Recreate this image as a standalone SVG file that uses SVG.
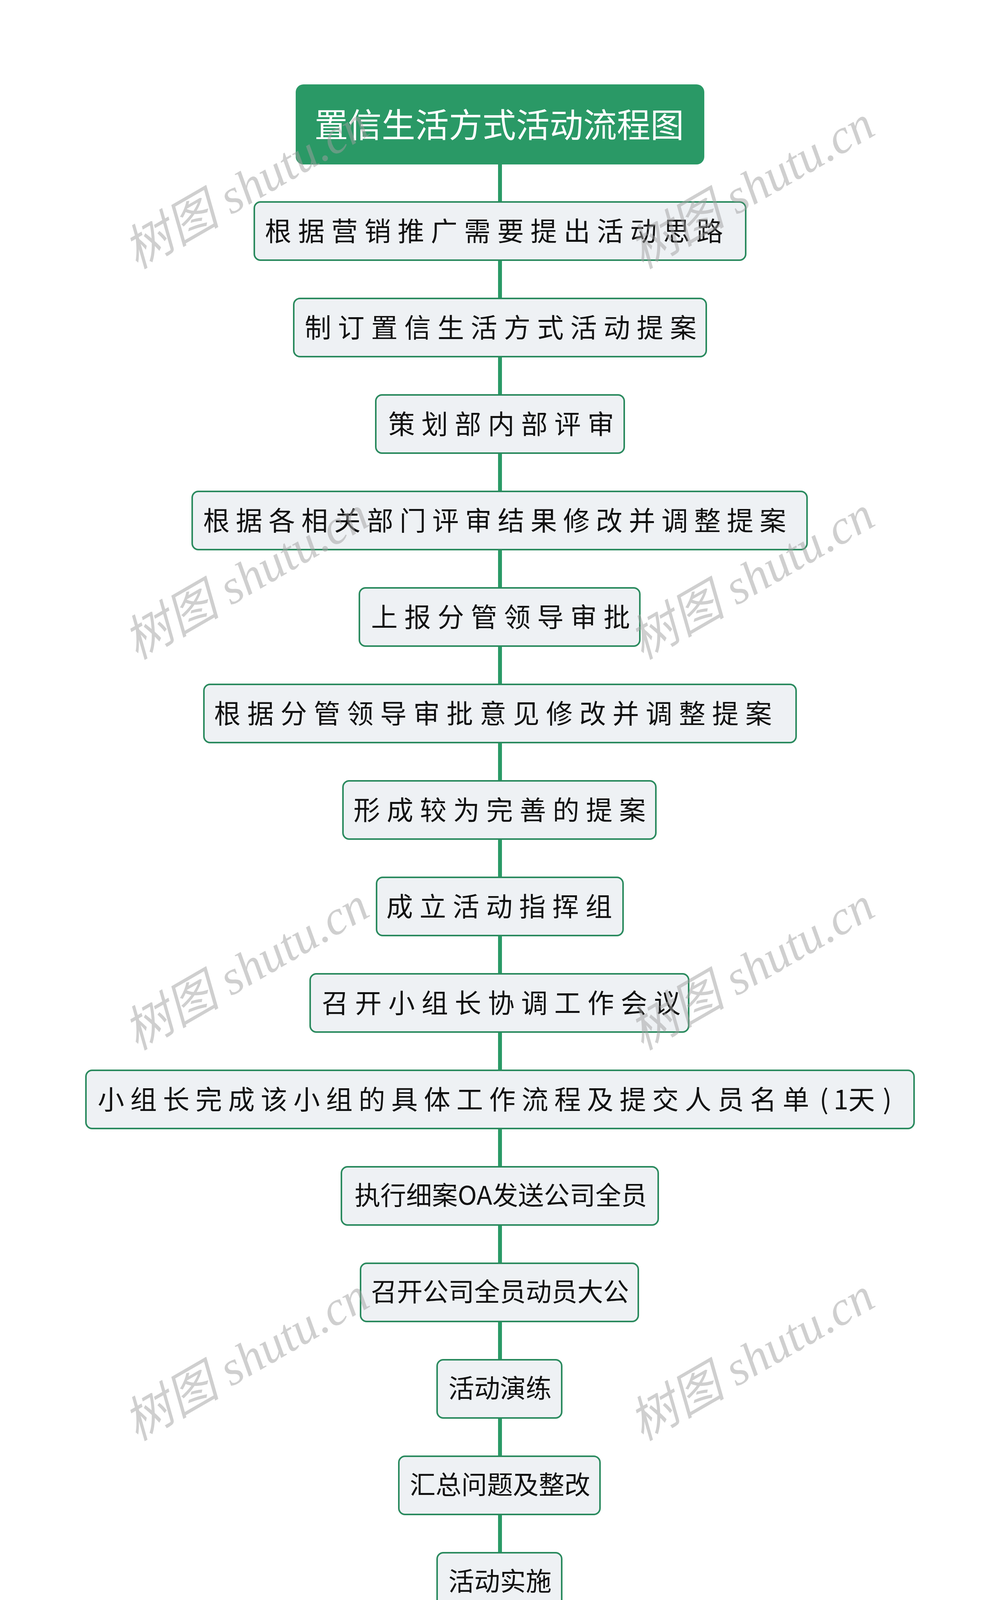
<svg xmlns="http://www.w3.org/2000/svg" width="2560" height="4837" viewBox="0 0 2560 4837">
<style>
.bg{fill:#ffffff}
.conn line{stroke:#2a9a66;stroke-width:10}
.box{fill:#eef1f4;stroke:#2a8a5e;stroke-width:4}
.root{fill:#2a9966}
.t{font-family:"Noto Sans CJK SC","Noto Sans",sans-serif;fill:#111111}
.sp{font-size:68px;letter-spacing:17px}
.ns{font-size:66px}
.rt{font-family:"Noto Sans CJK SC","Noto Sans",sans-serif;font-size:86px;fill:#ffffff}
.wm{font-family:"Liberation Serif","Noto Sans CJK SC",serif;font-style:italic;font-size:124px;fill:#a0a0a0;fill-opacity:0.5}
</style>
<rect class="bg" x="0" y="0" width="2560" height="4837"/>
<g id="connectors" class="conn">
<line x1="1280" y1="421" x2="1280" y2="515"/>
<line x1="1280" y1="668" x2="1280" y2="762"/>
<line x1="1280" y1="915" x2="1280" y2="1009"/>
<line x1="1280" y1="1162" x2="1280" y2="1256"/>
<line x1="1280" y1="1409" x2="1280" y2="1503"/>
<line x1="1280" y1="1656" x2="1280" y2="1750"/>
<line x1="1280" y1="1903" x2="1280" y2="1997"/>
<line x1="1280" y1="2150" x2="1280" y2="2244"/>
<line x1="1280" y1="2397" x2="1280" y2="2491"/>
<line x1="1280" y1="2644" x2="1280" y2="2738"/>
<line x1="1280" y1="2891" x2="1280" y2="2985"/>
<line x1="1280" y1="3138" x2="1280" y2="3232"/>
<line x1="1280" y1="3385" x2="1280" y2="3479"/>
<line x1="1280" y1="3632" x2="1280" y2="3726"/>
<line x1="1280" y1="3879" x2="1280" y2="3973"/>
<line x1="1280" y1="4126" x2="1280" y2="4220"/>
<line x1="1280" y1="4373" x2="1280" y2="4467"/>
</g>
<g id="root">
<rect class="root" x="757" y="216" width="1046" height="205" rx="20"/>
<text class="rt" x="1278" y="352" text-anchor="middle">置信生活方式活动流程图</text>
</g>
<g id="n1"><rect class="box" x="651" y="517" width="1258" height="149" rx="16"/><text class="t sp" x="678" y="617">根据营销推广需要提出活动思路</text></g>
<g id="n2"><rect class="box" x="752" y="764" width="1056" height="149" rx="16"/><text class="t sp" x="780" y="864">制订置信生活方式活动提案</text></g>
<g id="n3"><rect class="box" x="962" y="1011" width="636" height="149" rx="16"/><text class="t sp" x="994" y="1111">策划部内部评审</text></g>
<g id="n4"><rect class="box" x="492" y="1258" width="1574" height="149" rx="16"/><text class="t sp" x="520" y="1358" style="letter-spacing:15.8px">根据各相关部门评审结果修改并调整提案</text></g>
<g id="n5"><rect class="box" x="920" y="1505" width="718" height="149" rx="16"/><text class="t sp" x="950" y="1605">上报分管领导审批</text></g>
<g id="n6"><rect class="box" x="522" y="1752" width="1516" height="149" rx="16"/><text class="t sp" x="548" y="1852">根据分管领导审批意见修改并调整提案</text></g>
<g id="n7"><rect class="box" x="878" y="1999" width="801" height="149" rx="16"/><text class="t sp" x="905" y="2099">形成较为完善的提案</text></g>
<g id="n8"><rect class="box" x="964" y="2246" width="631" height="149" rx="16"/><text class="t sp" x="989" y="2346">成立活动指挥组</text></g>
<g id="n9"><rect class="box" x="794" y="2493" width="969" height="149" rx="16"/><text class="t sp" x="824" y="2593">召开小组长协调工作会议</text></g>
<g id="n10"><rect class="box" x="220" y="2740" width="2120" height="149" rx="16"/><text class="t sp" x="250" y="2840" style="letter-spacing:15.5px">小组长完成该小组的具体工作流程及提交人员名单<tspan x="2098" style="letter-spacing:0px">(</tspan><tspan x="2134" style="letter-spacing:0px">1天</tspan><tspan x="2260" style="letter-spacing:0px">)</tspan></text></g>
<g id="n11"><rect class="box" x="874" y="2987" width="811" height="149" rx="16"/><text class="t ns" x="1282" y="3084" text-anchor="middle">执行细案OA发送公司全员</text></g>
<g id="n12"><rect class="box" x="923" y="3234" width="711" height="149" rx="16"/><text class="t ns" x="1280" y="3331" text-anchor="middle">召开公司全员动员大公</text></g>
<g id="n13"><rect class="box" x="1119" y="3481" width="319" height="149" rx="16"/><text class="t ns" x="1280" y="3578" text-anchor="middle">活动演练</text></g>
<g id="n14"><rect class="box" x="1021" y="3728" width="515" height="149" rx="16"/><text class="t ns" x="1280" y="3825" text-anchor="middle">汇总问题及整改</text></g>
<g id="n15"><rect class="box" x="1119" y="3975" width="319" height="149" rx="16"/><text class="t ns" x="1280" y="4072" text-anchor="middle">活动实施</text></g>
<g id="n16"><rect class="box" x="1119" y="4222" width="319" height="149" rx="16"/><text class="t ns" x="1280" y="4319" text-anchor="middle">活动总结</text></g>
<g id="n17"><rect class="box" x="530" y="4469" width="1498" height="149" rx="16"/><text class="t ns" x="559" y="4566">召开公司总结大会（庆功会)提出表扬、提出批评</text></g>
<g id="watermarks">
<text class="wm" transform="translate(350,690) rotate(-30)">树图 shutu.cn</text>
<text class="wm" transform="translate(1644,690) rotate(-30)">树图 shutu.cn</text>
<text class="wm" transform="translate(350,1690) rotate(-30)">树图 shutu.cn</text>
<text class="wm" transform="translate(1644,1690) rotate(-30)">树图 shutu.cn</text>
<text class="wm" transform="translate(350,2690) rotate(-30)">树图 shutu.cn</text>
<text class="wm" transform="translate(1644,2690) rotate(-30)">树图 shutu.cn</text>
<text class="wm" transform="translate(350,3690) rotate(-30)">树图 shutu.cn</text>
<text class="wm" transform="translate(1644,3690) rotate(-30)">树图 shutu.cn</text>
<text class="wm" transform="translate(350,4690) rotate(-30)">树图 shutu.cn</text>
<text class="wm" transform="translate(1644,4690) rotate(-30)">树图 shutu.cn</text>
</g>
</svg>
